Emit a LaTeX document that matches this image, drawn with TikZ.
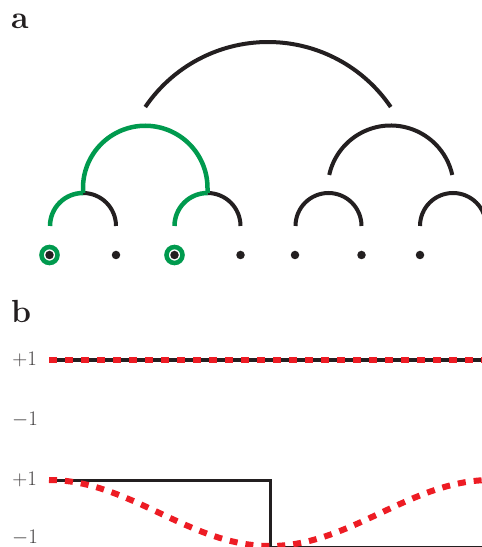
\documentclass[tikz,border=0pt]{standalone}
\definecolor{ink}{HTML}{231F20}
\definecolor{grn}{HTML}{009A4E}
\definecolor{redd}{HTML}{ED1C24}
\begin{document}
\begin{tikzpicture}[x=1pt,y=1pt,
  blk/.style={draw=ink, line width=4pt},
  grnline/.style={draw=grn, line width=4.5pt},
  dot/.style={circle, fill=ink, inner sep=0pt, minimum size=8.5pt},
  ring/.style={circle, draw=grn, line width=4.6pt, minimum size=16pt, inner sep=0pt},
  tick/.style={anchor=east, font=\fontsize{22}{24}\selectfont, text=ink!85, inner sep=0pt},
  panel/.style={anchor=base west, font=\fontsize{32}{34}\selectfont\bfseries, text=ink, inner sep=0pt},
  sig/.style={draw=ink, line width=3.5pt},
  reddash/.style={draw=redd, line width=6pt, dash pattern=on 8pt off 8pt}
]
\useasboundingbox (0,0) rectangle (482,547);

% panel labels
\node[panel] (la) at (11,518) {a};
\node[panel] (lb) at (11,224) {b};

% leaves
\node[dot] (d1) at (49.5,292) {};
\node[dot] (d2) at (116,292) {};
\node[dot] (d3) at (174.5,292) {};
\node[dot] (d4) at (240.5,292) {};
\node[dot] (d5) at (295,292) {};
\node[dot] (d6) at (361.5,292) {};
\node[dot] (d7) at (420,292) {};
\node[ring] (r1) at (d1) {};
\node[ring] (r3) at (d3) {};

% small arcs (black parts)
\draw[blk] (83,354) arc[start angle=90,end angle=0,radius=33];
\draw[blk] (207.5,354) arc[start angle=90,end angle=0,radius=33];
\draw[blk] (295.5,321) arc[start angle=180,end angle=0,radius=33];
\draw[blk] (420,321) arc[start angle=180,end angle=0,radius=33];

% right middle arc
\draw[blk] ([shift={(167.6:63)}]390.75,358.5) arc[start angle=167.6,end angle=12.4,radius=63];

% top arc
\draw[blk] ([shift={(145.8:148.4)}]268,356.6) arc[start angle=145.8,end angle=34.2,radius=148.4];

% green path
\draw[grnline] (50,321) arc[start angle=180,end angle=90,radius=33];
\draw[grnline] (174.5,321) arc[start angle=180,end angle=90,radius=33];
\draw[grnline] (83,354) -- (83,359) arc[start angle=180,end angle=0,radius=62.25] -- (207.5,354);

% panel b
\node[tick] (p1) at (37,188) {$+1$};
\node[tick] (m1) at (38,127) {$-1$};
\node[tick] (p2) at (37,68) {$+1$};
\node[tick] (m2) at (38,9.5) {$-1$};

\coordinate (t0) at (49,187);
\coordinate (t1) at (482,187);
\draw[sig] (t0) -- (t1);
\draw[reddash] (t0) -- (t1);

\coordinate (s0) at (49,66.5);
\coordinate (s1) at (270.5,66.5);
\coordinate (s2) at (270.5,-0.3);
\coordinate (s3) at (482,-0.3);
\draw[sig] (s0) -- (s1) -- (s2) -- (s3);
\draw[reddash, domain=49:482, samples=150] plot (\x,{34+33*cos(0.81448*(\x-49))});
\end{tikzpicture}
\end{document}
